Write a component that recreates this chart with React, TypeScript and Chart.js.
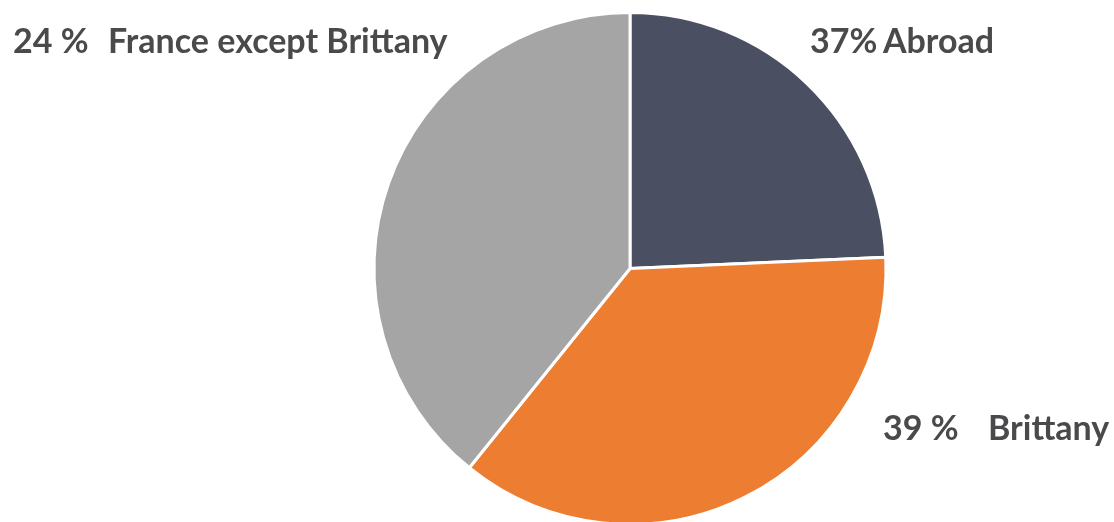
import React, { useEffect, useRef } from "react";
import { Chart, registerables } from "chart.js";

Chart.register(...registerables);

const categories = ["Abroad", "Brittany", "France except Brittany"];
const sliceValues = [24.3, 36.5, 39.2];
const percentTexts = ["37%", "39 %", "24 %"];
const sliceColors = ["#4a5062", "#ed7d31", "#a5a5a5"];

// label placements (left x of percent, left x of name, baseline y)
const labelPlaces = [
  { px: 810, nx: 883, y: 53 },
  { px: 883, nx: 988, y: 440 },
  { px: 13, nx: 108, y: 53 },
];

const labelPlugin = {
  id: "sliceLabels",
  afterDraw(chart: any) {
    const ctx = chart.ctx;
    ctx.save();
    ctx.fillStyle = "#4a4a4c";
    ctx.font = "bold 34px Lato";
    ctx.textBaseline = "alphabetic";
    ctx.textAlign = "left";
    categories.forEach((name, i) => {
      const p = labelPlaces[i];
      ctx.fillText(percentTexts[i], p.px, p.y);
      ctx.fillText(name, p.nx, p.y);
    });
    ctx.restore();
  },
};

export default function App() {
  const ref = useRef<HTMLCanvasElement>(null);
  useEffect(() => {
    if (!ref.current) return;
    const chart = new Chart(ref.current, {
      type: "pie",
      data: {
        labels: categories,
        datasets: [
          {
            data: sliceValues,
            backgroundColor: sliceColors,
            borderColor: "#ffffff",
            borderWidth: 3,
          },
        ],
      },
      options: {
        responsive: false,
        animation: false,
        layout: { padding: { left: 372, right: 226, top: 11, bottom: 14 } },
        plugins: {
          legend: { display: false },
          tooltip: { enabled: false },
        },
      },
      plugins: [labelPlugin],
    });
    return () => chart.destroy();
  }, []);
  return (
    <div style={{ position: "absolute", left: 0, top: 0, width: 1114, height: 540, background: "#fff" }}>
      <canvas ref={ref} width={1114} height={540} style={{ width: 1114, height: 540 }} />
    </div>
  );
}
